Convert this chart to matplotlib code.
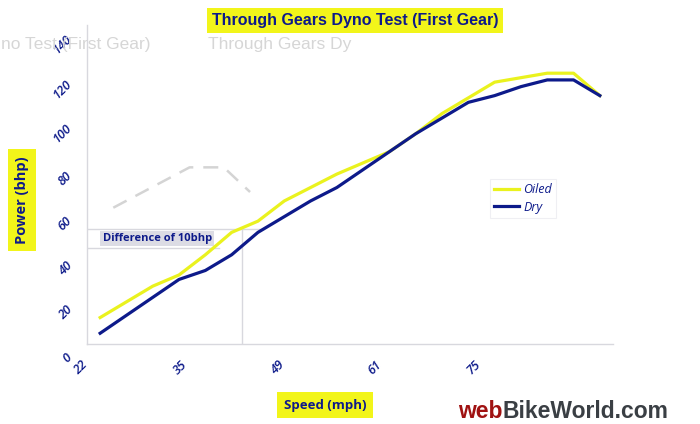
import matplotlib
matplotlib.use("Agg")
import matplotlib.pyplot as plt
import matplotlib.transforms as mtransforms
import numpy as np

# ---- data ----
dry = [11, 19, 27, 35, 39, 46, 56, 63, 70, 76, 84, 92, 100, 107, 114, 117, 121, 124, 124, 117]
oiled = [18, 25, 32, 37, 46, 56, 61, 70, 76, 82, 87, 92, 100, 109, 116, 123, 125, 127, 127, 117]
speed_labels = ["22", "35", "49", "61", "75"]
speed_label_pos = [-0.38, 3.42, 7.11, 10.8, 14.56]
power_ticks = [20, 40, 60, 80, 100, 120, 140]
ghost_x = [0.5, 3.4, 4.7, 5.7]
ghost_y = [67, 85, 85, 74]
diff_top = 57.4
diff_low = 49.2
diff_x = 5.39

NAVY = "#0d1a8a"
YELLOW = "#eaf21e"
BOXY = "#f2f51a"
GRID = "#d8d8de"

plt.rcParams["font.family"] = ["Open Sans", "DejaVu Sans"]

fig = plt.figure(figsize=(7, 4.24), dpi=100)
ax = fig.add_axes([87/700, 80/424, 526/700, 319/424])

x = np.arange(len(dry))
ax.set_xlim(-0.5, len(dry) - 0.5)
ax.set_ylim(6.2, 148.5)

# ghost artefact
ax.plot(ghost_x, ghost_y, color="#d4d4d4", lw=1.8, ls=(0, (6, 4)), zorder=1)

# difference annotation lines
ax.plot([-0.5, 6.2], [diff_top, diff_top], color=GRID, lw=1, zorder=1)
ax.plot([-0.5, 4.5], [diff_low, diff_low], color=GRID, lw=1, zorder=1)
ax.plot([diff_x, diff_x], [6.2, diff_top], color=GRID, lw=1, zorder=1)
ax.text(2.17, 53.1, "Difference of 10bhp", color=NAVY, fontsize=8, fontweight="bold",
        ha="center", va="center", zorder=2,
        bbox=dict(facecolor="#dcdce4", edgecolor="none", pad=1.5))

l1, = ax.plot(x, oiled, color=YELLOW, lw=2.3, label="Oiled", zorder=3)
l2, = ax.plot(x, dry, color=NAVY, lw=2.3, label="Dry", zorder=4)

for s in ["top", "right"]:
    ax.spines[s].set_visible(False)
for s in ["left", "bottom"]:
    ax.spines[s].set_color(GRID)
    ax.spines[s].set_linewidth(1)

tick_font = dict(fontstyle="italic", color=NAVY, fontsize=9, fontweight="semibold")
ax.set_xticks(speed_label_pos)
ax.set_xticklabels(speed_labels, rotation=45, ha="right", **tick_font)
ax.tick_params(axis="x", length=0, pad=10)
ax.set_yticks(power_ticks)
ax.set_yticklabels([str(v) for v in power_ticks], rotation=45, va="center", **tick_font)
ax.tick_params(axis="y", length=0, pad=9)
trans = mtransforms.blended_transform_factory(fig.transFigure, ax.transData)
ax.text(67/700, 0, "0", transform=trans, rotation=45, ha="center", va="center",
        clip_on=False, **tick_font)

leg = ax.legend(handles=[l1, l2], loc="upper left", bbox_to_anchor=(490/700, 1 - 179/424),
                bbox_transform=fig.transFigure, frameon=True, fancybox=False,
                prop=dict(style="italic", size=9), handlelength=2.0, handletextpad=0.3,
                labelspacing=0.35, borderpad=0.35, borderaxespad=0)
leg.get_frame().set_edgecolor("#ececf0")
leg.get_frame().set_linewidth(0.8)
for t in leg.get_texts():
    t.set_color(NAVY)

# title
fig.text(355/700, 1 - 20.5/424, "Through Gears Dyno Test (First Gear)", ha="center", va="center",
         fontsize=11.5, fontweight="bold", color=NAVY, family=["Liberation Sans", "DejaVu Sans"],
         bbox=dict(facecolor=BOXY, edgecolor="none", pad=3.5))
# ghost texts
fig.text(1/700, 1 - 44/424, "no Test (First Gear)", ha="left", va="center", fontsize=12.5,
         color="#d6d6d6", family=["Liberation Sans", "DejaVu Sans"], zorder=0)
fig.text(208/700, 1 - 44/424, "Through Gears Dy", ha="left", va="center", fontsize=12.5,
         color="#d6d6d6", family=["Liberation Sans", "DejaVu Sans"], zorder=0)

# axis labels
fig.text(22/700, 1 - 200/424, "Power (bhp)", rotation=90, ha="center", va="center",
         fontsize=10.5, fontweight="bold", color=NAVY,
         bbox=dict(facecolor=BOXY, edgecolor="none", pad=5))
fig.text(325/700, 1 - 405/424, "Speed (mph)", ha="center", va="center",
         fontsize=9.5, fontweight="bold", color=NAVY,
         bbox=dict(facecolor=BOXY, edgecolor="none", pad=5))

# watermark
t1 = fig.text(458/700, 1 - 411/424, "web", ha="left", va="center", fontsize=16.5,
              fontweight="bold", color="#a01212", family=["Liberation Sans", "DejaVu Sans"])
ax.annotate("BikeWorld.com", xy=(1, 0.5), xycoords=t1, ha="left", va="center",
            fontsize=16.5, fontweight="bold", color="#3a3f44",
            family=["Liberation Sans", "DejaVu Sans"], annotation_clip=False)

fig.savefig("out.png", dpi=100)
